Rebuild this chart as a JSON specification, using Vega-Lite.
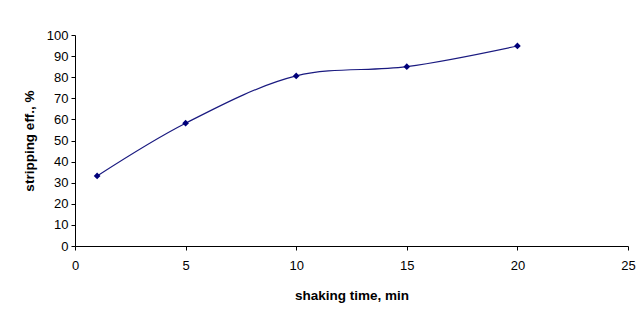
{
  "$schema": "https://vega.github.io/schema/vega-lite/v6.json",
  "width": 553,
  "height": 211,
  "autosize": {"type": "none"},
  "padding": {"left": 75, "top": 35, "right": 11, "bottom": 74},
  "background": "white",
  "config": {
    "view": {"stroke": null},
    "font": "Liberation Sans",
    "axis": {
      "grid": false,
      "domainColor": "black",
      "tickColor": "black",
      "labelColor": "black",
      "titleColor": "black",
      "labelFont": "Liberation Sans",
      "titleFont": "Liberation Sans",
      "labelFontSize": 13,
      "titleFontSize": 13.5,
      "titleFontWeight": "bold",
      "tickSize": 4,
      "labelFlush": false,
      "labelOverlap": false
    }
  },
  "data": {
    "values": [
      {"t": 1, "eff": 33.2},
      {"t": 5, "eff": 58.2},
      {"t": 10, "eff": 80.6},
      {"t": 15, "eff": 85.0},
      {"t": 20, "eff": 94.8}
    ]
  },
  "encoding": {
    "x": {
      "field": "t", "type": "quantitative",
      "scale": {"domain": [0, 25], "nice": false},
      "axis": {"values": [0, 5, 10, 15, 20, 25], "title": "shaking time, min", "labelPadding": 9, "titlePadding": 16}
    },
    "y": {
      "field": "eff", "type": "quantitative",
      "scale": {"domain": [0, 100], "nice": false},
      "axis": {"values": [0, 10, 20, 30, 40, 50, 60, 70, 80, 90, 100], "title": "stripping eff., %", "labelPadding": 3, "titlePadding": 10}
    }
  },
  "layer": [
    {"mark": {"type": "line", "interpolate": "catmull-rom", "color": "#1a1a80", "strokeWidth": 1.2}},
    {"mark": {"type": "point", "shape": "diamond", "filled": true, "color": "#00007a", "size": 45, "opacity": 1}}
  ]
}
